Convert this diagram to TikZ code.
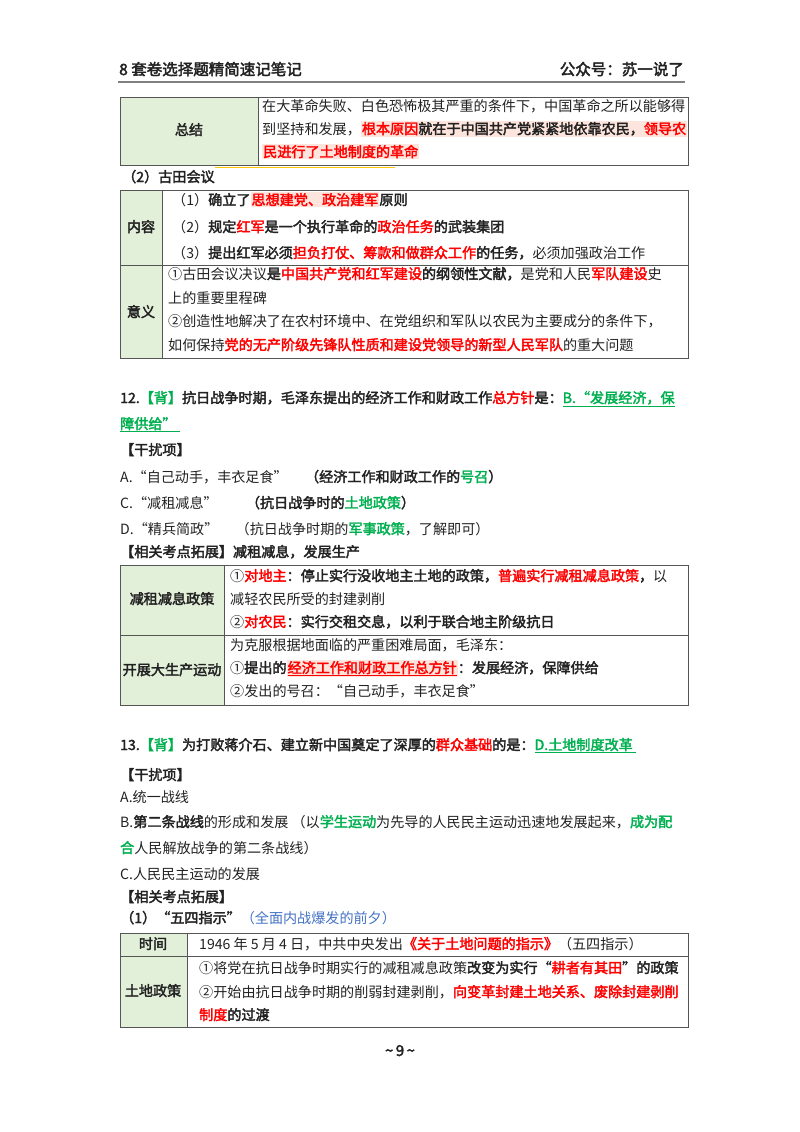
\documentclass[tikz,border=0pt]{standalone}
\usepackage{fontspec}
\setmainfont{Noto Sans CJK SC}[AutoFakeBold=2.5]
\definecolor{R}{HTML}{FF0000}
\definecolor{G}{HTML}{00B050}
\definecolor{BL}{HTML}{4472C4}
\definecolor{cellg}{HTML}{E2EFD9}
\definecolor{hl}{HTML}{FDE4DC}
\definecolor{bd}{HTML}{555555}
\definecolor{tx}{HTML}{222222}
\newcommand{\Rd}[1]{\textcolor{R}{\bfseries #1}}
\newcommand{\Gn}[1]{\textcolor{G}{\bfseries #1}}
\newcommand{\Bd}[1]{{\bfseries #1}}
\newcommand{\Hl}[1]{{\setlength{\fboxsep}{1pt}\colorbox{hl}{#1}}}
\begin{document}
\begin{tikzpicture}[x=1pt,y=-1pt,
  t/.style={anchor=base west,inner sep=0pt,font=\fontsize{14.1}{15}\selectfont,text=tx},
  tc/.style={anchor=base,inner sep=0pt,font=\fontsize{14.1}{15}\selectfont\bfseries,text=tx},
  grid/.style={draw=bd,line width=1pt},
  cell/.style={fill=cellg}]
\fill[white] (0,0) rectangle (800,1132);
\useasboundingbox (0,0) rectangle (800,1132);
% header
\node[t,font=\fontsize{15.5}{16}\selectfont\bfseries] (h1) at (119,75) {8 套卷选择题精简速记笔记};
\node[t,anchor=base east,font=\fontsize{15.5}{16}\selectfont\bfseries] (h2) at (684,75) {公众号：苏一说了};
\draw[gray,line width=1.6pt] (118,82) -- (685,82);
% table 1
\fill[cell] (120,97) rectangle (258,165);
\draw[grid] (120,97) rectangle (688,165) (258,97) -- (258,165);
\node[tc] (s1) at (189,135) {总结};
\node[t] (s2) at (262,111) {在大革命失败、白色恐怖极其严重的条件下，中国革命之所以能够得};
\node[t] (s3) at (262,134) {到坚持和发展，\Hl{\Rd{根本原因}\Bd{就在于中国共产党紧紧地依靠农民，}\Rd{领导农}}};
\node[t] (s4) at (262,157) {\Hl{\Rd{民进行了土地制度的革命}}};
\draw[yellow!60!orange,line width=0.8pt] (215,167) -- (395,167);
\node[t,font=\fontsize{14.1}{15}\selectfont\bfseries] (g0) at (122,182) {（2）古田会议};
% table 2
\fill[cell] (120,190) rectangle (162,358);
\draw[grid] (120,190) rectangle (688,358) (162,190) -- (162,358) (120,265) -- (688,265);
\node[tc] (n1) at (141,232) {内容};
\node[tc] (n2) at (141,317) {意义};
\node[t] (c1) at (172,205) {（1）\Bd{确立了}\Hl{\Rd{思想建党、政治建军}}\Bd{原则}};
\node[t] (c2) at (172,232) {（2）\Bd{规定}\Rd{红军}\Bd{是一个执行革命的}\Rd{政治任务}\Bd{的武装集团}};
\node[t] (c3) at (172,258) {（3）\Bd{提出红军必须}\Rd{担负打仗、筹款和做群众工作}\Bd{的任务，}必须加强政治工作};
\node[t] (c4) at (168,279) {①古田会议决议\Bd{是}\Rd{中国共产党和红军建设}\Bd{的纲领性文献，}是党和人民\Rd{军队建设}史};
\node[t] (c5) at (168,303) {上的重要里程碑};
\node[t] (c6) at (168,326) {②创造性地解决了在农村环境中、在党组织和军队以农民为主要成分的条件下，};
\node[t] (c7) at (168,350) {如何保持\Rd{党的无产阶级先锋队性质和建设党领导的新型人民军队}的重大问题};
% question 12
\node[t,font=\fontsize{14.1}{15}\selectfont\bfseries] (q1) at (120,403) {12.\textcolor{G}{【背】}抗日战争时期，毛泽东提出的经济工作和财政工作\textcolor{R}{总方针}是：\textcolor{G}{\underline{B.“发展经济，保}}};
\node[t,font=\fontsize{14.1}{15}\selectfont\bfseries] (q2) at (120,429) {\textcolor{G}{\underline{障供给”\ }}};
\node[t,font=\fontsize{14.1}{15}\selectfont\bfseries] (q3) at (120,455) {【干扰项】};
\node[t] (q4) at (120,482) {A.“自己动手，丰衣足食”\quad\ \Bd{（经济工作和财政工作的}\Gn{号召}\Bd{）}};
\node[t] (q5) at (120,508) {C.“减租减息”\qquad\Bd{（抗日战争时的}\Gn{土地政策}\Bd{）}};
\node[t] (q6) at (120,534) {D.“精兵简政”\quad\ （抗日战争时期的\Gn{军事政策}，了解即可）};
\node[t,font=\fontsize{14.1}{15}\selectfont\bfseries] (q7) at (120,557) {【相关考点拓展】减租减息，发展生产};
% table 3
\fill[cell] (120,565) rectangle (224,705);
\draw[grid] (120,565) rectangle (688,705) (224,565) -- (224,705) (120,635) -- (688,635);
\node[tc] (m1) at (172,604) {减租减息政策};
\node[tc] (m2) at (172,675) {开展大生产运动};
\node[t] (r1) at (230,581) {①\Rd{对地主}\Bd{：停止实行没收地主土地的政策，}\Rd{普遍实行减租减息政策}\Bd{，}以};
\node[t] (r2) at (230,604) {减轻农民所受的封建剥削};
\node[t] (r3) at (230,627) {②\Rd{对农民}\Bd{：实行交租交息，以利于联合地主阶级抗日}};
\node[t] (r4) at (230,650) {为克服根据地面临的严重困难局面，毛泽东：};
\node[t] (r5) at (230,673) {①\Bd{提出的}\Hl{\textcolor{R}{\bfseries\underline{经济工作和财政工作总方针}}}\Bd{：发展经济，保障供给}};
\node[t] (r6) at (230,696) {②发出的号召：“自己动手，丰衣足食”};
% question 13
\node[t,font=\fontsize{14.1}{15}\selectfont\bfseries] (p1) at (120,750) {13.\textcolor{G}{【背】}为打败蒋介石、建立新中国奠定了深厚的\textcolor{R}{群众基础}的是：\textcolor{G}{\underline{D.土地制度改革\ }}};
\node[t,font=\fontsize{14.1}{15}\selectfont\bfseries] (p2) at (120,780) {【干扰项】};
\node[t] (p3) at (120,802) {A.统一战线};
\node[t] (p4) at (120,827) {B.\Bd{第二条战线}的形成和发展\ （以\Gn{学生运动}为先导的人民民主运动迅速地发展起来，\Gn{成为配}};
\node[t] (p5) at (120,853) {\Gn{合}人民解放战争的第二条战线）};
\node[t] (p6) at (120,879) {C.人民民主运动的发展};
\node[t,font=\fontsize{14.1}{15}\selectfont\bfseries] (p7) at (120,902) {【相关考点拓展】};
\node[t] (p8) at (120,923) {\Bd{（1）“五四指示”}\textcolor{BL}{（全面内战爆发的前夕）}};
% table 4
\fill[cell] (120,933) rectangle (187,1027);
\draw[grid] (120,933) rectangle (688,1027) (187,933) -- (187,1027) (120,956) -- (688,956);
\node[tc] (k1) at (153,949) {时间};
\node[tc] (k2) at (153,996) {土地政策};
\node[t] (k3) at (199,949) {1946 年 5 月 4 日，中共中央发出\Rd{《关于土地问题的指示》}（五四指示）};
\node[t] (k4) at (199,973) {①将党在抗日战争时期实行的减租减息政策\Bd{改变为实行“}\Rd{耕者有其田}\Bd{”的政策}};
\node[t] (k5) at (199,997) {②开始由抗日战争时期的削弱封建剥削，\Rd{向变革封建土地关系、废除封建剥削}};
\node[t] (k6) at (199,1020) {\Rd{制度}\Bd{的过渡}};
\node[tc,font=\fontsize{15}{15}\selectfont\bfseries] (pg) at (400,1056) {\textasciitilde\,9\,\textasciitilde};
\end{tikzpicture}
\end{document}
